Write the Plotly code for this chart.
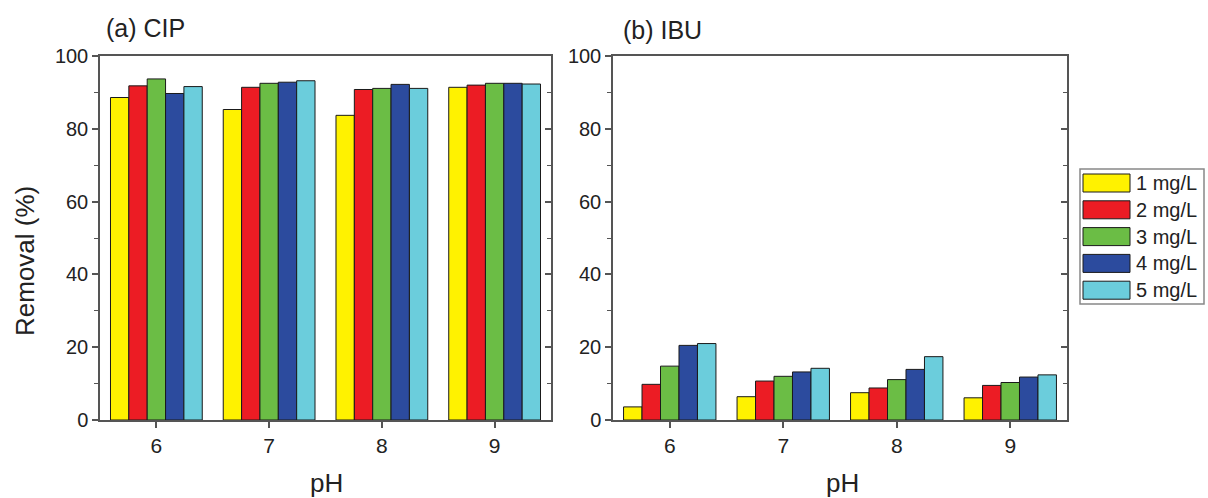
import plotly.graph_objects as go

ph = ["6", "7", "8", "9"]
series = ["1 mg/L", "2 mg/L", "3 mg/L", "4 mg/L", "5 mg/L"]
cip = [
    [88.6, 85.3, 83.7, 91.4],
    [91.8, 91.4, 90.8, 92.0],
    [93.7, 92.5, 91.1, 92.5],
    [89.7, 92.8, 92.2, 92.5],
    [91.6, 93.2, 91.1, 92.3],
]
ibu = [
    [3.6, 6.4, 7.5, 6.1],
    [9.8, 10.7, 8.8, 9.5],
    [14.8, 12.0, 11.1, 10.3],
    [20.5, 13.2, 13.9, 11.8],
    [21.0, 14.2, 17.4, 12.4],
]
colors = ["#FFF200", "#EC1C24", "#6BBD45", "#2C4B9E", "#6BCDDC"]
ph_num = [6, 7, 8, 9]

FONT = "Liberation Sans, Arial, sans-serif"
W, H = 1208, 498
L, R, T, B = 100, 1067, 56, 420

fig = go.Figure()
for i, name in enumerate(series):
    fig.add_trace(go.Bar(x=ph_num, y=cip[i], name=name, marker_color=colors[i],
                         marker_line=dict(color="#1a1a1a", width=1),
                         xaxis="x", yaxis="y", legendgroup=name, showlegend=False))
for i, name in enumerate(series):
    fig.add_trace(go.Bar(x=ph_num, y=ibu[i], name=name, marker_color=colors[i],
                         marker_line=dict(color="#1a1a1a", width=1),
                         xaxis="x2", yaxis="y2", legendgroup=name, showlegend=False))

pw = R - L
ph_ = B - T
def px(x):
    return (x - L) / pw
def py(y):
    return (B - y) / ph_

axcol = "#555555"
common_x = dict(range=[5.5, 9.5], tickvals=ph_num, ticktext=ph, ticks="outside", ticklen=6,
                tickwidth=1.5, tickcolor=axcol, showline=True, linecolor=axcol, linewidth=1.5,
                mirror=True, showgrid=False, zeroline=False,
                tickfont=dict(family=FONT, size=21, color="#222"))
common_y = dict(range=[0, 100], dtick=20, ticks="outside", ticklen=6, tickwidth=1.5,
                tickcolor=axcol, showline=True, linecolor=axcol, linewidth=1.5, mirror=True,
                showgrid=False, zeroline=False,
                minor=dict(dtick=10, ticks="outside", ticklen=4, tickwidth=1.2, tickcolor=axcol),
                tickfont=dict(family=FONT, size=20, color="#222"))
inner_y = dict(range=[0, 100], dtick=20, ticks="inside", ticklen=6, tickwidth=1.5,
               tickcolor=axcol, showline=False, showgrid=False, zeroline=False,
               showticklabels=False, side="right",
               minor=dict(dtick=10, ticks="inside", ticklen=4, tickwidth=1.2, tickcolor=axcol))

fig.update_layout(
    width=W, height=H,
    margin=dict(l=L, r=W - R, t=T, b=H - B),
    paper_bgcolor="white", plot_bgcolor="white",
    barmode="group", bargap=0.186,
    xaxis=dict(domain=[0, px(551)], anchor="y", **common_x),
    yaxis=dict(domain=[0, 1], anchor="x", **common_y),
    xaxis2=dict(domain=[px(613), 1], anchor="y2", **common_x),
    yaxis2=dict(domain=[0, 1], anchor="x2", **common_y),
    yaxis3=dict(overlaying="y", anchor="x", **inner_y),
    yaxis4=dict(overlaying="y2", anchor="x2", **inner_y),
    showlegend=False,
    font=dict(family=FONT, color="#222"),
)

ann = [
    dict(text="(a) CIP", x=px(104), y=py(28), xanchor="left", yanchor="middle", size=25),
    dict(text="(b) IBU", x=px(621), y=py(30), xanchor="left", yanchor="middle", size=25),
    dict(text="pH", x=px(326.5), y=py(483), xanchor="center", yanchor="middle", size=26),
    dict(text="pH", x=px(842.5), y=py(483), xanchor="center", yanchor="middle", size=26),
]
for a in ann:
    fig.add_annotation(text=a["text"], xref="paper", yref="paper", x=a["x"], y=a["y"],
                       xanchor=a["xanchor"], yanchor=a["yanchor"], showarrow=False,
                       font=dict(family=FONT, size=a["size"], color="#222"))
fig.add_annotation(text="Removal (%)", xref="paper", yref="paper", x=px(25), y=py(261),
                   xanchor="center", yanchor="middle", textangle=-90, showarrow=False,
                   font=dict(family=FONT, size=26, color="#222"))

# legend box (drawn with shapes so the swatches match the reference's wide rectangles)
fig.add_shape(type="rect", xref="paper", yref="paper", x0=px(1080), x1=px(1204),
              y0=py(304), y1=py(169), line=dict(color="#888888", width=1.5),
              fillcolor="white", layer="above")
row_h = 26.8
for i, name in enumerate(series):
    cy = 183 + i * row_h
    fig.add_shape(type="rect", xref="paper", yref="paper", x0=px(1083), x1=px(1130),
                  y0=py(cy + 9), y1=py(cy - 9), fillcolor=colors[i],
                  line=dict(color="#1a1a1a", width=1), layer="above")
    fig.add_annotation(text=name, xref="paper", yref="paper", x=px(1134), y=py(cy),
                       xanchor="left", yanchor="middle", showarrow=False,
                       font=dict(family=FONT, size=20, color="#222"))

# dummy traces to activate overlay axes
fig.add_trace(go.Scatter(x=[None], y=[None], xaxis="x", yaxis="y3", showlegend=False, hoverinfo="skip"))
fig.add_trace(go.Scatter(x=[None], y=[None], xaxis="x2", yaxis="y4", showlegend=False, hoverinfo="skip"))

fig.write_html("out.html")
